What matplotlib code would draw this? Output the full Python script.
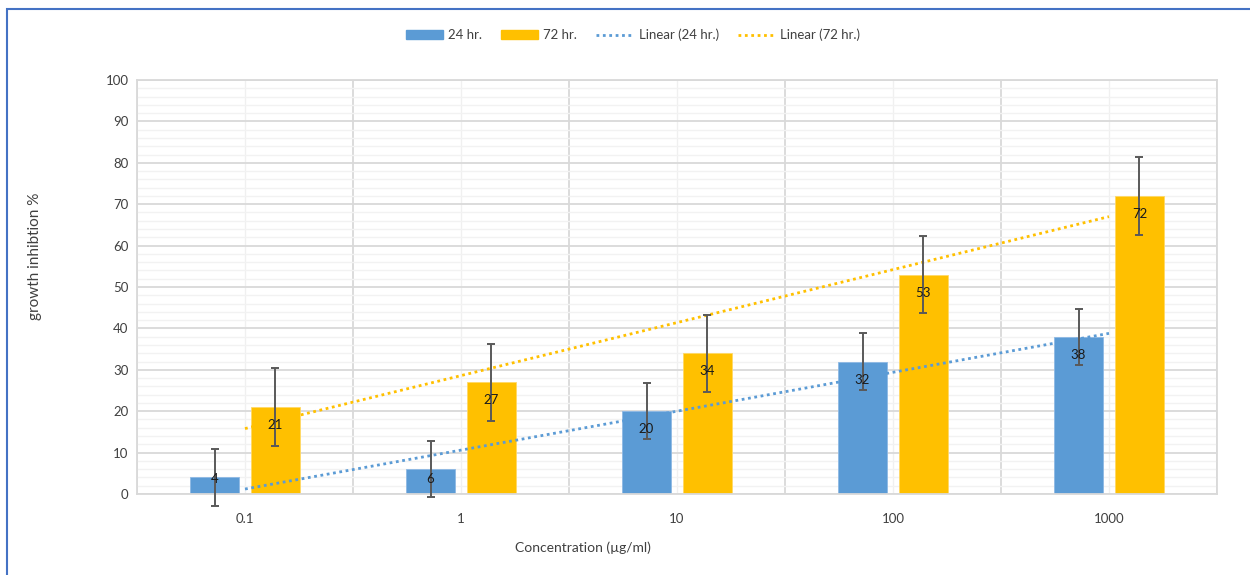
import numpy as np
import matplotlib
matplotlib.use("Agg")
import matplotlib.pyplot as plt
from matplotlib.patches import Patch, Rectangle
from matplotlib.lines import Line2D
from matplotlib.ticker import MultipleLocator

categories = ["0.1", "1", "10", "100", "1000"]
vals_24 = [4, 6, 20, 32, 38]
vals_72 = [21, 27, 34, 53, 72]
err_24 = [6.78, 6.78, 6.78, 6.78, 6.78]
err_72 = [9.35, 9.35, 9.35, 9.35, 9.35]
series_names = ["24 hr.", "72 hr."]
trend_names = ["Linear (24 hr.)", "Linear (72 hr.)"]
y_label = "growth inhibtion %"
x_label = "Concentration (µg/ml)"

BLUE = "#5B9BD5"
YELLOW = "#FFC000"
TXT = "#404040"

plt.rcParams['font.family'] = ['Lato', 'DejaVu Sans']
FS = 9.5

fig = plt.figure(figsize=(12.5, 5.75), dpi=100)
ax = fig.add_axes([137/1250, 1-494/575, 1080/1250, 414/575])

x = np.arange(len(categories))
w = 0.227
off = 0.141
v24 = np.array(vals_24, float)
v72 = np.array(vals_72, float)

ax.set_xlim(-0.5, len(categories)-0.5)
ax.set_ylim(0, 100)

# grid
ax.yaxis.set_major_locator(MultipleLocator(10))
ax.yaxis.set_minor_locator(MultipleLocator(2))
ax.set_xticks(x)
ax.set_xticks(np.arange(-0.5, len(categories), 1.0), minor=True)
ax.grid(which='major', axis='y', color='#d9d9d9', lw=1.3, zorder=0)
ax.grid(which='minor', axis='y', color='#f2f2f2', lw=1.0, zorder=0)
ax.grid(which='minor', axis='x', color='#d9d9d9', lw=1.3, zorder=0)
ax.grid(which='major', axis='x', color='#f0f0f0', lw=1.0, zorder=0)
ax.set_axisbelow(True)
for s in ax.spines.values():
    s.set_color('#d9d9d9')
    s.set_linewidth(1.3)
ax.tick_params(which='both', length=0)
ax.tick_params(axis='y', labelsize=FS, labelcolor=TXT, pad=6)
ax.tick_params(axis='x', labelsize=FS, labelcolor=TXT, pad=14)
ax.set_xticklabels(categories)

ax.bar(x - off, v24, w, color=BLUE, edgecolor='#8db8e4', lw=0.6, zorder=2)
ax.bar(x + off, v72, w, color=YELLOW, edgecolor='#ffd966', lw=0.6, zorder=2)

# linear trendlines (Excel style, fitted on category index)
xi = x + 1
for vals, col in [(v24, BLUE), (v72, YELLOW)]:
    p = np.polyfit(xi, vals, 1)
    ax.plot(x, np.polyval(p, xi), color=col, lw=2.0, ls=(0, (1, 1.3)), zorder=3)

ax.errorbar(x - off, v24, yerr=err_24, fmt='none', ecolor='#595959', elinewidth=1.4,
            capsize=3.2, capthick=1.4, zorder=4, clip_on=False)
ax.errorbar(x + off, v72, yerr=err_72, fmt='none', ecolor='#595959', elinewidth=1.4,
            capsize=3.2, capthick=1.4, zorder=4, clip_on=False)

for xs, vals in [(x - off, v24), (x + off, v72)]:
    ly = np.maximum(vals - 4.35, 3.6)
    for xx, yy, v in zip(xs, ly, vals):
        ax.text(xx, yy, f"{v:g}", ha='center', va='center', fontsize=FS, color='#1a1a1a', zorder=5)

fig.text(35/1250, 1-256/575, y_label, rotation=90, ha='center', va='center', fontsize=11, color=TXT)
fig.text(583/1250, 1-548/575, x_label, ha='center', va='center', fontsize=10, color=TXT)

handles = [Patch(color=BLUE), Patch(color=YELLOW),
           Line2D([], [], color=BLUE, lw=2.0, ls=(0, (1, 1.3))),
           Line2D([], [], color=YELLOW, lw=2.0, ls=(0, (1, 1.3)))]
fig.legend(handles, series_names + trend_names, loc='center', bbox_to_anchor=(633/1250, 1-35/575),
           ncol=4, frameon=False, fontsize=FS, handlelength=2.8, handletextpad=0.4,
           columnspacing=1.45, labelcolor=TXT)

fig.add_artist(Rectangle((7/1250, -0.1), 1.2, 1-9/575+0.1, transform=fig.transFigure,
                         fill=False, edgecolor='#4472C4', lw=1.5, clip_on=False))

fig.savefig("out.png", dpi=100)
